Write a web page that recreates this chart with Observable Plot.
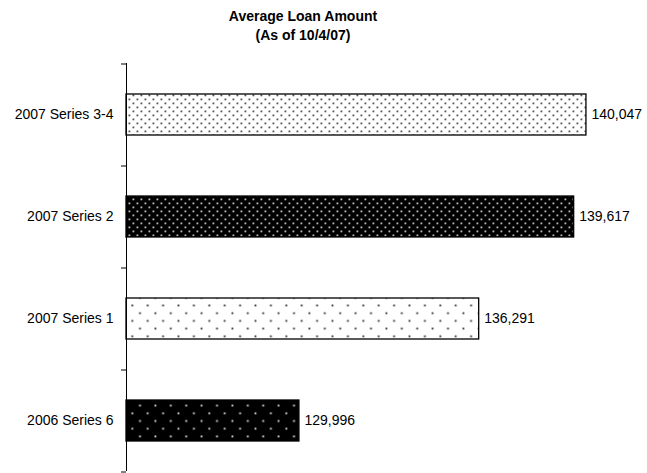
<!DOCTYPE html>
<html>
<head>
<meta charset="utf-8">
<script src="https://cdn.jsdelivr.net/npm/d3@7"></script>
<script src="https://cdn.jsdelivr.net/npm/@observablehq/plot@0.6"></script>
<style>
  html, body { margin: 0; padding: 0; background: #fff; }
  body { font-family: "Liberation Sans", Arial, sans-serif; }
  #title { width: 606px; height: 50px; box-sizing: border-box; padding-top: 7px;
           text-align: center; font-weight: bold; font-size: 14px; line-height: 19px; color: #000; }
</style>
</head>
<body>
<div id="title">Average Loan Amount<br>(As of 10/4/07)</div>
<div id="chart"></div>
<script>
// Data
const categories = ["2007 Series 3-4", "2007 Series 2", "2007 Series 1", "2006 Series 6"];
const values = [140047, 139617, 136291, 129996];
const patternIds = ["pat-dense-light", "pat-dense-dark", "pat-sparse-light", "pat-sparse-dark"];

const table = categories.map((c, i) => ({cat: c, value: values[i], fill: `url(#${patternIds[i]})`}));

const xMin = 123940, xMax = 141940;
const yRange = [13, 421];
const pInner = 0.6, pOuter = 0.3;
const step = (yRange[1] - yRange[0]) / (categories.length - pInner + 2 * pOuter);
const fmt = d3.format(",");

const chart = Plot.plot({
  width: 647,
  height: 423,
  marginTop: 13,
  marginBottom: 2,
  marginLeft: 126,
  marginRight: 7,
  style: {fontFamily: "'Liberation Sans', Arial, sans-serif", fontSize: "14px", background: "#fff", color: "#000", overflow: "visible"},
  x: {domain: [xMin, xMax], range: [126, 640], axis: null},
  y: {domain: categories, range: yRange, paddingInner: pInner, paddingOuter: pOuter, axis: null},
  color: {type: "identity"},
  marks: [
    Plot.barX(table, {x1: xMin, x2: "value", y: "cat", fill: "fill", stroke: "#000", strokeWidth: 1.3}),
    Plot.text(table, {x: "value", y: "cat", text: d => fmt(d.value), textAnchor: "start", dx: 5, fill: "#000", fontSize: 14}),
    Plot.ruleX([xMin], {stroke: "#000", strokeWidth: 1}),
    Plot.axisY({tickSize: 0, tickPadding: 13, label: null, fontSize: 14, fill: "#000"}),
    Plot.axisY(categories, {tickSize: 5, tickFormat: () => "", label: null, dy: -step / 2, stroke: "#000"}),
    Plot.axisY([categories[categories.length - 1]], {tickSize: 5, tickFormat: () => "", label: null, dy: step / 2, stroke: "#000"})
  ]
});

// Pattern definitions
const defs = d3.select(chart).insert("defs", ":first-child");
function addPattern(id, size, bg, dot, r) {
  const p = defs.append("pattern").attr("id", id).attr("patternUnits", "userSpaceOnUse")
    .attr("width", size).attr("height", size);
  p.append("rect").attr("width", size).attr("height", size).attr("fill", bg);
  p.append("rect").attr("x", 0.5).attr("y", 0.5).attr("width", r).attr("height", r).attr("fill", dot);
  p.append("rect").attr("x", size / 2 + 0.5).attr("y", size / 2 + 0.5).attr("width", r).attr("height", r).attr("fill", dot);
}
addPattern("pat-dense-light", 8, "#fff", "#555", 1.8);
addPattern("pat-dense-dark", 8, "#000", "#bbb", 1.8);
addPattern("pat-sparse-light", 15.4, "#fff", "#333", 1.8);
addPattern("pat-sparse-dark", 15.4, "#000", "#ddd", 1.8);

document.getElementById("chart").appendChild(chart);
</script>
</body>
</html>
